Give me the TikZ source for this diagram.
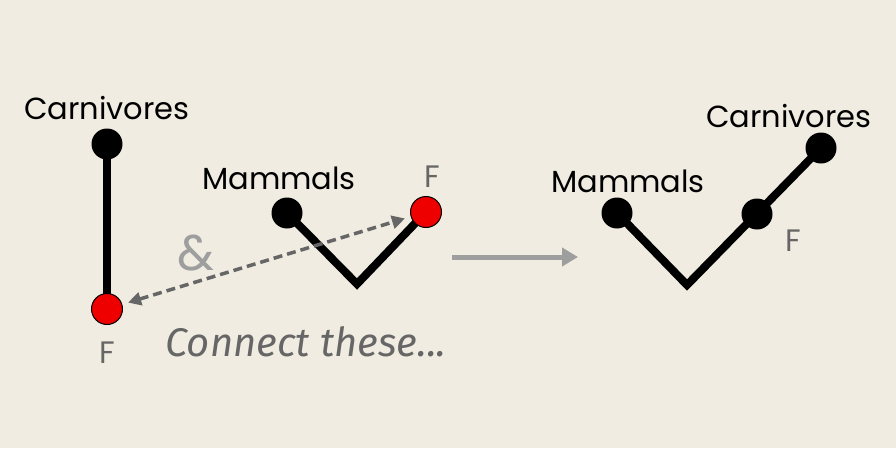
\documentclass[tikz,border=0pt]{standalone}
\usepackage{fontspec}
\setmainfont{Poppins}
\newfontfamily\handfont{Fira Sans}
\usetikzlibrary{arrows.meta}
\definecolor{bg}{HTML}{F0ECE1}
\definecolor{dgray}{HTML}{666666}
\definecolor{lgray}{HTML}{9E9E9E}
\definecolor{redd}{HTML}{EE0000}
\tikzset{
  branch/.style={line width=8pt, black},
  blackdot/.style={circle, fill=black, minimum size=31pt, inner sep=0pt},
  reddot/.style={circle, fill=redd, draw=black, line width=1pt, minimum size=31pt, inner sep=0pt},
  lbl/.style={font=\fontsize{30.5}{32}\selectfont, text=black, inner sep=0pt},
  flbl/.style={font=\fontsize{31}{32}\selectfont, text=dgray, inner sep=0pt},
}
\begin{document}
\begin{tikzpicture}[x=1pt,y=-1pt]
\fill[bg] (0,0) rectangle (896,448);
\useasboundingbox (0,0) rectangle (896,448);
% left tree
\coordinate (ctop) at (107,144);
\coordinate (cbot) at (107,309);
\draw[branch] (ctop) -- (cbot);
\node[blackdot] (c1) at (ctop) {};
\node[reddot] (f1) at (cbot) {};
\node[lbl] (carn1) at (107,108) {Carnivores};
\node[flbl] (fl1) at (107,353) {F};
% middle tree
\coordinate (mv) at (357,284);
\draw[branch] (287,213) -- (mv) -- (426,212);
\node[blackdot] (m1) at (287,213) {};
\node[reddot] (f2) at (426,212) {};
\node[lbl] (mam1) at (279,178) {Mammals};
\node[flbl] (fl2) at (432,177) {F};
% dashed connector
\draw[dgray, line width=3.5pt, dash pattern=on 9pt off 5pt, {Triangle[length=13pt,width=13pt]}-{Triangle[length=13pt,width=13pt]}, shorten <=6pt, shorten >=6pt] (f1) -- (f2);
\node[font=\fontsize{50}{50}\selectfont, text=lgray, inner sep=0pt] (amp) at (196,253) {\&};
\node[font=\handfont\itshape\fontsize{40}{42}\selectfont, text=dgray, inner sep=0pt] (conn) at (306,342) {Connect these...};
% arrow
\coordinate (a1) at (452,257);
\coordinate (a2) at (578,257);
\draw[lgray, line width=5pt, -{Triangle[length=16pt,width=18pt]}] (a1) -- (a2);
% right tree
\coordinate (rv) at (687,285);
\draw[branch] (617,213) -- (rv) -- (821,148);
\node[blackdot] (m2) at (617,213) {};
\node[blackdot] (f3) at (757,214) {};
\node[blackdot] (c2) at (821,148) {};
\node[lbl] (mam2) at (628,181) {Mammals};
\node[lbl] (carn2) at (789,116) {Carnivores};
\node[flbl] (fl3) at (793,241) {F};
\end{tikzpicture}
\end{document}
